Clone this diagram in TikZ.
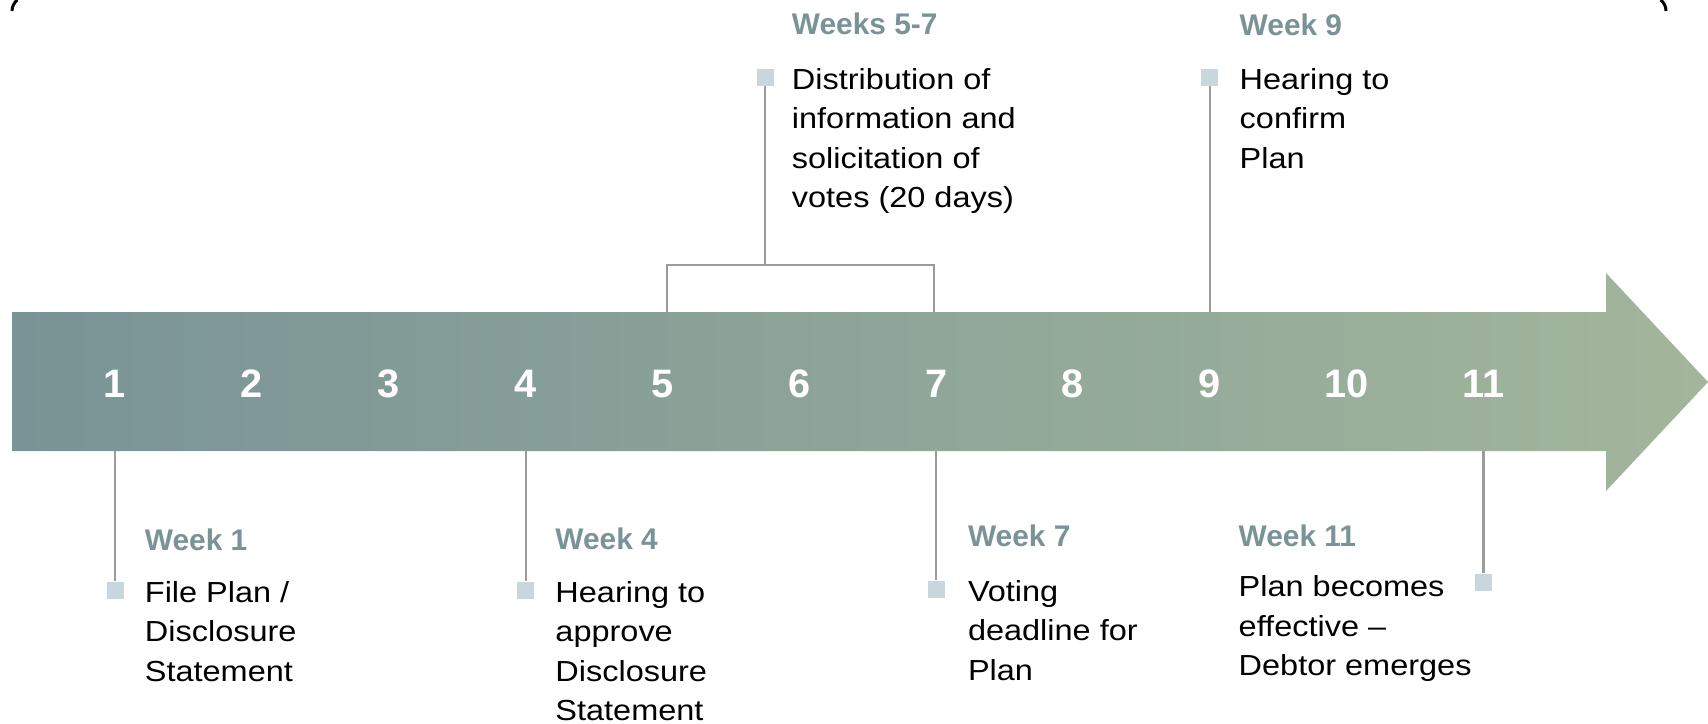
\documentclass[tikz,border=0pt]{standalone}
\usepackage{fontspec}
\setmainfont{Liberation Sans}
\newfontfamily\bodyfont[FakeStretch=1.12]{Liberation Sans}
\usetikzlibrary{positioning}

\definecolor{slate}{RGB}{122,147,150}
\definecolor{sage}{RGB}{162,182,155}
\definecolor{mist}{RGB}{200,214,222}
\definecolor{rulegray}{RGB}{155,155,155}

\begin{document}
\begin{tikzpicture} [
    x=0.1mm, y=-0.1mm,
    num/.style = {text=white, inner sep=0, font=\fontsize{11.3}{13}\selectfont\bfseries},
    marker/.style = {fill=mist, minimum size=1.7mm, inner sep=0},
    week/.style = {text=slate, inner sep=0, font=\fontsize{8.5}{10}\selectfont\bfseries},
    event/.style = {align=left, inner sep=0, anchor=north west, font=\bodyfont\fontsize{8.25}{11.2}\selectfont},
    tick/.style = {draw=rulegray, line width=0.6pt}
    ]
    \useasboundingbox (0,0) rectangle (1708,723);

    % frame corners
    \draw[line width=0.85pt] (12,11) arc[start angle=180, end angle=232, radius=14];
    \draw[line width=0.85pt] (1666,11) arc[start angle=0, end angle=-52, radius=14];

    % timeline arrow
    \shade[left color=slate, right color=sage] (12,312) -- (1606,312) -- (1606,273)
        -- (1708,382) -- (1606,491) -- (1606,451) -- (12,451) -- cycle;
    \coordinate (top) at (0,312);
    \coordinate (bot) at (0,451);

    \foreach \i in {1,...,11}
        \node[num] (n\i) at ({115+(\i-1)*136.85},384) {\i};

    % markers
    \node[marker] (m1) at (n1 |- 0,590) {};
    \node[marker] (m4) at (n4 |- 0,590) {};
    \node[marker] (m7) at (n7 |- 0,589) {};
    \node[marker] (m11) at (n11 |- 0,582) {};
    \node[marker] (m9) at (n9 |- 0,77) {};
    \node[marker] (m57) at (765,77) {};

    \draw[tick] (m1) -- (m1 |- bot);
    \draw[tick] (m4) -- (m4 |- bot);
    \draw[tick] (m7) -- (m7 |- bot);
    \draw[tick] (m11) -- (m11 |- bot);
    \draw[tick] (m9) -- (m9 |- top);

    % bracket over weeks 5-7
    \coordinate (brL) at (667,265);
    \coordinate (brR) at (934,265);
    \draw[tick] (brL |- top) -- (brL) -- (brR) -- (brR |- top);
    \draw[tick] (m57) -- (m57 |- brL);

    % below the arrow
    \node[event, right=2mm of m1.north east, anchor=north west] (t1) {File Plan /\\Disclosure\\Statement};
    \node[week, above=3mm of t1.north west, anchor=base west] {Week 1};

    \node[event, right=2mm of m4.north east, anchor=north west] (t4) {Hearing to\\approve\\Disclosure\\Statement};
    \node[week, above=3.1mm of t4.north west, anchor=base west] {Week 4};

    \node[event, right=2.2mm of m7.north east, anchor=north west] (t7) {Voting\\deadline for\\Plan};
    \node[week, above=3.3mm of t7.north west, anchor=base west] {Week 7};

    \node[event] (t11) at (1238,575) {Plan becomes\\effective –\\Debtor emerges};
    \node[week, above=2.9mm of t11.north west, anchor=base west] {Week 11};

    % above the arrow
    \node[event, right=1.7mm of m57.north east, anchor=north west] (t57) {Distribution of\\information and\\solicitation of\\votes (20 days)};
    \node[week, above=3.3mm of t57.north west, anchor=base west] {Weeks 5-7};

    \node[event, right=2mm of m9.north east, anchor=north west] (t9) {Hearing to\\confirm\\Plan};
    \node[week, above=3.2mm of t9.north west, anchor=base west] {Week 9};
\end{tikzpicture}
\end{document}
